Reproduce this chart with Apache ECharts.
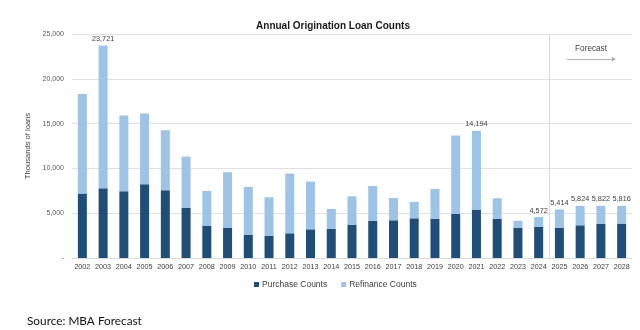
<!DOCTYPE html>
<html>
<head>
<meta charset="utf-8">
<script src="https://cdn.jsdelivr.net/npm/echarts@6/dist/echarts.min.js"></script>
<style>
html,body{margin:0;padding:0;background:#fff;}
#c{width:640px;height:330px;}
</style>
</head>
<body>
<div id="c"></div>
<script>
const years = ['2002','2003','2004','2005','2006','2007','2008','2009','2010','2011','2012','2013','2014','2015','2016','2017','2018','2019','2020','2021','2022','2023','2024','2025','2026','2027','2028'];
const totalCounts = [18290, 23721, 15900, 16130, 14260, 11320, 7490, 9570, 7930, 6780, 9420, 8530, 5470, 6890, 8040, 6700, 6260, 7710, 13670, 14194, 6670, 4150, 4572, 5414, 5824, 5822, 5816];
const purchaseCounts = [7190, 7780, 7450, 8230, 7560, 5620, 3610, 3390, 2610, 2460, 2760, 3200, 3240, 3720, 4170, 4210, 4430, 4390, 4920, 5400, 4360, 3390, 3480, 3390, 3650, 3800, 3840];
const refinanceCounts = totalCounts.map((t, i) => t - purchaseCounts[i]);
const labeledYears = ['2003','2021','2024','2025','2026','2027','2028'];
const yTicks = [0, 5000, 10000, 15000, 20000, 25000];
const forecastStart = '2025';
const forecastArrowY = 22200;

const fmt = v => v.toLocaleString('en-US');
const fIdx = years.indexOf(forecastStart);

const chart = echarts.init(document.getElementById('c'), null, {renderer: 'canvas'});
chart.setOption({
  animation: false,
  textStyle: {fontFamily: 'Liberation Sans, Arial, sans-serif'},
  title: [{
    text: 'Annual Origination Loan Counts',
    left: 328, top: 16, textAlign: 'center',
    textStyle: {fontSize: 10, fontWeight: 'bold', color: '#1a1a1a'}
  }, {
    text: 'Source: MBA Forecast',
    left: 22, top: 310,
    textStyle: {fontSize: 11.8, fontWeight: 'normal', color: '#111', fontFamily: 'Lato, sans-serif'}
  }],
  legend: {
    left: 249, top: 275,
    itemWidth: 5, itemHeight: 5, itemGap: 14,
    icon: 'rect',
    textStyle: {fontSize: 8.5, color: '#404040', padding: [0, 0, 0, -2]},
    data: ['Purchase Counts', 'Refinance Counts']
  },
  grid: {left: 72, right: 8, top: 34, bottom: 72, containLabel: false},
  xAxis: [{
    type: 'category', data: years,
    axisLine: {lineStyle: {color: '#d9d9d9'}},
    axisTick: {show: false},
    axisLabel: {fontSize: 7.2, color: '#404040', margin: 6, interval: 0}
  }, {
    type: 'value', min: 0, max: years.length, show: false
  }],
  yAxis: {
    type: 'value', min: 0, max: 25000, interval: 5000,
    name: 'Thousands of loans', nameLocation: 'middle', nameGap: 34,
    nameTextStyle: {fontSize: 7.6, color: '#404040'},
    axisLine: {show: false}, axisTick: {show: false},
    axisLabel: {fontSize: 7, color: '#595959', margin: 8,
      formatter: v => v === 0 ? '-' : fmt(v)},
    splitLine: {lineStyle: {color: '#e0e0e0', width: 1}}
  },
  series: [{
    name: 'Purchase Counts', type: 'bar', stack: 'a', barWidth: 9,
    itemStyle: {color: '#1f4e79'},
    data: purchaseCounts
  }, {
    name: 'Refinance Counts', type: 'bar', stack: 'a', barWidth: 9,
    itemStyle: {color: '#9dc3e6'},
    data: refinanceCounts,
    label: {
      show: true, position: 'top', distance: 3,
      fontSize: 7.3, color: '#404040',
      formatter: p => labeledYears.includes(p.name) ? fmt(totalCounts[p.dataIndex]) : ''
    }
  }, {
    name: 'forecast', type: 'line', xAxisIndex: 1, data: [],
    silent: true,
    markLine: {
      silent: true, symbol: 'none',
      label: {show: false},
      lineStyle: {color: '#d9d9d9', type: 'solid', width: 1},
      data: [{xAxis: fIdx}]
    }
  }, {
    name: 'forecastArrow', type: 'line', xAxisIndex: 1, data: [],
    silent: true,
    markLine: {
      silent: true, symbol: ['none', 'arrow'], symbolSize: 4,
      lineStyle: {color: '#a6a6a6', type: 'solid', width: 0.8},
      label: {show: true, position: 'middle', formatter: 'Forecast', fontSize: 8.2, color: '#404040', distance: 6},
      data: [[{coord: [fIdx + 0.85, forecastArrowY]}, {coord: [fIdx + 3.2, forecastArrowY]}]]
    }
  }]
});
</script>
</body>
</html>
